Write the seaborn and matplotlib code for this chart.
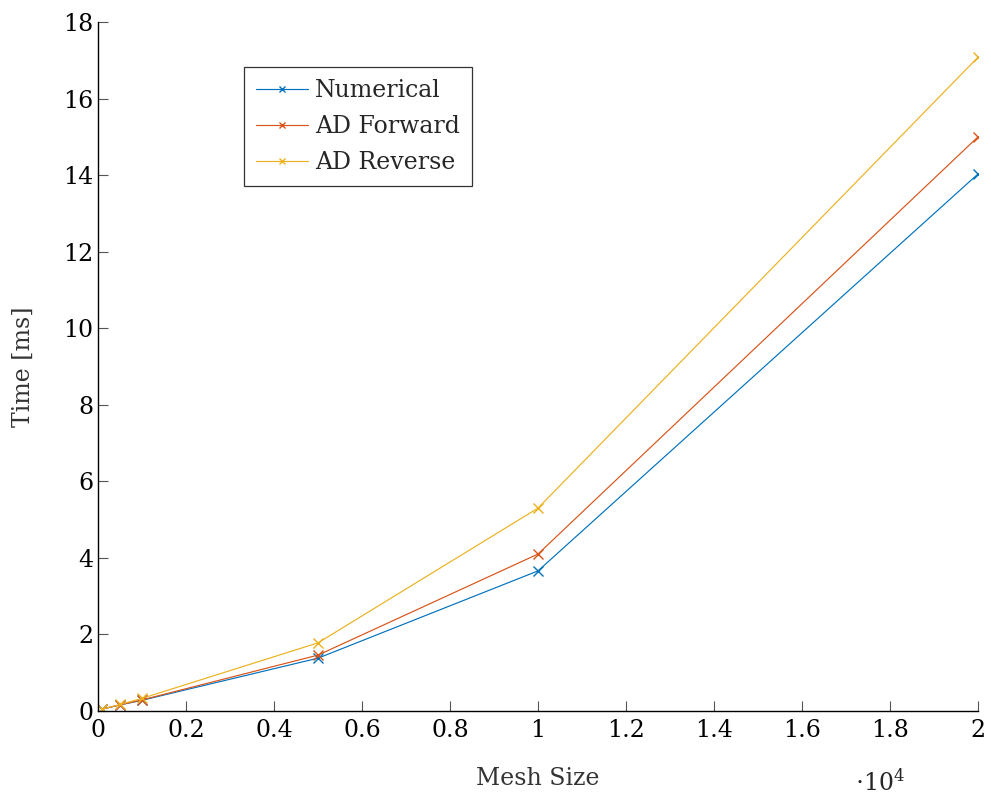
import numpy as np
import pandas as pd
import matplotlib
matplotlib.use("Agg")
import matplotlib.pyplot as plt
import seaborn as sns

mesh_size = [100, 500, 1000, 5000, 10000, 20000]
numerical = [0.05, 0.16, 0.28, 1.38, 3.66, 14.03]
ad_forward = [0.05, 0.16, 0.29, 1.46, 4.10, 15.00]
ad_reverse = [0.05, 0.17, 0.33, 1.78, 5.30, 17.08]
series_names = ["Numerical", "AD Forward", "AD Reverse"]
colors = ["#0072BD", "#D95319", "#EDB120"]

rows = []
for name, vals in zip(series_names, [numerical, ad_forward, ad_reverse]):
    for x, y in zip(mesh_size, vals):
        rows.append({"Mesh Size": x, "Time": y, "Method": name})
df = pd.DataFrame(rows)

sns.set_theme(style="white")
plt.rcParams['font.family'] = ['DejaVu Serif']
plt.rcParams['mathtext.fontset'] = 'dejavuserif'

fig = plt.figure(figsize=(9.91, 7.98), dpi=100)
ax = fig.add_axes([98/991, 1-711/798, 880/991, 689/798])

sns.lineplot(data=df, x="Mesh Size", y="Time", hue="Method", palette=colors,
             marker="x", markersize=7, markeredgewidth=1.0, linewidth=0.85,
             ax=ax, legend=True)
for ln in ax.lines:
    ln.set_markeredgecolor(ln.get_color())

ax.set_xlim(0, 20000)
ax.set_ylim(0, 18)
xt = np.arange(0, 20001, 2000)
ax.set_xticks(xt)
ax.set_xticklabels([("%g" % (v/1e4)) for v in xt])
ax.set_yticks(np.arange(0, 19, 2))
ax.tick_params(axis='both', which='both', direction='in', length=7, width=0.8,
               top=False, right=False, bottom=True, left=True,
               labelsize=17, colors='#555555', labelcolor='black')
ax.tick_params(axis='x', pad=6)
ax.spines['top'].set_visible(False)
ax.spines['right'].set_visible(False)
for s in ['left', 'bottom']:
    ax.spines[s].set_color('black')
    ax.spines[s].set_linewidth(1.0)

ax.set_xlabel("Mesh Size", fontsize=17, labelpad=18, color='#333333')
ax.set_ylabel("Time [ms]", fontsize=17, labelpad=20, color='#333333')
fig.text(880/991, 1-782/798, r"$\cdot 10^4$", fontsize=17, ha='center', va='center')

leg = ax.legend(loc='upper left', bbox_to_anchor=(0.166, 0.934), borderaxespad=0,
                fontsize=17, frameon=True, fancybox=False, edgecolor='#333333',
                framealpha=1, handlelength=2.2, handletextpad=0.3, borderpad=0.5,
                labelspacing=0.55)
leg.get_frame().set_linewidth(0.9)
for h in leg.legend_handles:
    try:
        h.set_markeredgecolor(h.get_color())
        h.set_markersize(5)
        h.set_linewidth(0.85)
    except Exception:
        pass

fig.savefig("out.png", dpi=100)
